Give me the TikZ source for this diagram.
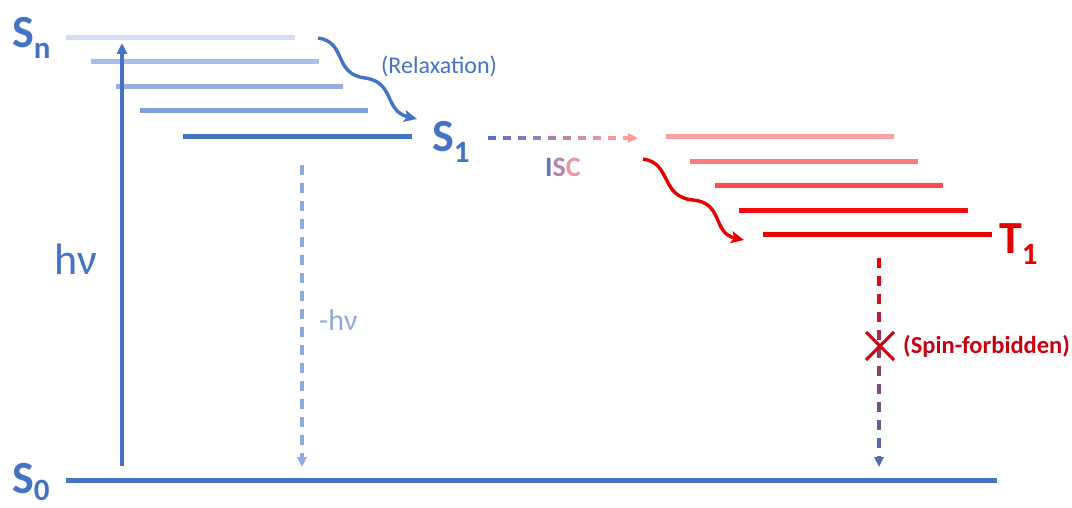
\documentclass[tikz,border=0pt]{standalone}
\usepackage{fontspec}
\setmainfont{Carlito}
\usetikzlibrary{arrows.meta,calc}

% singlet levels, pale to full blue
\definecolor{sA}{HTML}{D3DEF2}
\definecolor{sB}{HTML}{A6BEE8}
\definecolor{sC}{HTML}{94AFE0}
\definecolor{sD}{HTML}{7F9FD8}
\definecolor{sblue}{HTML}{4472C4}
\definecolor{slight}{HTML}{8FAADC}
% triplet levels, pale to full red
\definecolor{tA}{HTML}{FF9E9E}
\definecolor{tB}{HTML}{FF7A7A}
\definecolor{tC}{HTML}{FF4A4A}
\definecolor{tD}{HTML}{FF0A0A}
\definecolor{tred}{HTML}{E60000}
\definecolor{dred}{HTML}{C80010}
\definecolor{iscpink}{HTML}{FF9A9A}
\definecolor{iscblue}{HTML}{5A6FC2}

\newcommand\statelab[3][11pt]{\fontsize{46}{46}\selectfont\bfseries #2\raisebox{-#1}{\fontsize{31}{31}\selectfont #3}}

\begin{document}
\begin{tikzpicture}[x=1pt,y=-1pt,
  lvl/.style={line width=5pt},
  solidarrow/.style={line width=3.2pt,-{Triangle[length=11pt,width=10pt]}},
  dasharrow/.style={line width=3.2pt,dash pattern=on 10pt off 8pt,-{Triangle[length=10pt,width=9pt]}},
  wavy/.style={line width=3.4pt,-{Stealth[length=13pt,width=12pt,inset=3pt]}},
  lab/.style={inner sep=0pt,anchor=base west}]
\useasboundingbox (0,0) rectangle (1072,508);

% ---- singlet manifold ----
\coordinate (sn-l) at (66,38);  \coordinate (sn-r) at (295,38);
\coordinate (s2-l) at (91,62);  \coordinate (s2-r) at (319,62);
\coordinate (s3-l) at (116,87); \coordinate (s3-r) at (343,87);
\coordinate (s4-l) at (140,111);\coordinate (s4-r) at (368,111);
\coordinate (s1-l) at (183,137);\coordinate (s1-r) at (412,137);
\draw[lvl,sA] (sn-l) -- (sn-r);
\draw[lvl,sB] (s2-l) -- (s2-r);
\draw[lvl,sC] (s3-l) -- (s3-r);
\draw[lvl,sD] (s4-l) -- (s4-r);
\draw[lvl,sblue] (s1-l) -- (s1-r);

% ---- triplet manifold ----
\coordinate (tn-l) at (666,137); \coordinate (tn-r) at (894,137);
\coordinate (t2-l) at (690,162); \coordinate (t2-r) at (918,162);
\coordinate (t3-l) at (715,186); \coordinate (t3-r) at (943,186);
\coordinate (t4-l) at (739,211); \coordinate (t4-r) at (968,211);
\coordinate (t1-l) at (763,235); \coordinate (t1-r) at (992,235);
\draw[lvl,tA] (tn-l) -- (tn-r);
\draw[lvl,tB] (t2-l) -- (t2-r);
\draw[lvl,tC] (t3-l) -- (t3-r);
\draw[lvl,tD] (t4-l) -- (t4-r);
\draw[lvl,tred] (t1-l) -- (t1-r);

% ---- ground state ----
\coordinate (s0-l) at (66,480); \coordinate (s0-r) at (997,480);
\draw[lvl,sblue] (s0-l) -- (s0-r);

% ---- state labels ----
\node[lab,text=sblue] (lsn) at (12,48)  {\statelab{S}{n}};
\node[lab,text=sblue] (ls1) at (432,152) {\statelab{S}{1}};
\node[lab,text=sblue] (ls0) at (12,493) {\statelab[7pt]{S}{0}};
\node[lab,text=tred]  (lt1) at (999,253) {\statelab{T}{1}};

% ---- absorption ----
\coordinate (abs-a) at (122,466);
\coordinate (abs-b) at (122,43);
\draw[solidarrow,sblue] (abs-a) -- (abs-b);
\node[lab,text=sblue,font=\fontsize{44}{44}\selectfont] (hv) at (54,274) {hν};

% ---- fluorescence ----
\coordinate (fl-a) at (302,165);
\coordinate (fl-b) at (302,467);
\draw[dasharrow,slight] (fl-a) -- (fl-b);
\node[lab,text=slight,font=\fontsize{30}{30}\selectfont] (mhv) at (319,330) {-hν};

% ---- relaxation in the singlet manifold ----
\coordinate (rx-a) at (318,38);
\coordinate (rx-m) at (365,78);
\coordinate (rx-b) at (417,119);
\draw[wavy,sblue] (rx-a) .. controls (347,42) and (333,74) .. (rx-m)
  .. controls (395,82) and (384,111) .. (rx-b);
\node[lab,text=sblue,font=\fontsize{24}{24}\selectfont] (relax) at (381,74) {(Relaxation)};

% ---- intersystem crossing ----
\coordinate (isc-a) at (488,138);
\coordinate (isc-b) at (638,138);
\foreach \i [evaluate=\i as \p using 100-\i*12] in {0,...,8}
  \draw[line width=3.2pt,iscblue!\p!iscpink]
    ($(isc-a)!{\i*15/150}!(isc-b)$) -- ($(isc-a)!{(\i*15+8)/150}!(isc-b)$);
\draw[line width=3.2pt,iscpink,-{Triangle[length=10pt,width=9pt]}]
  ($(isc-a)!{135/150}!(isc-b)$) -- (isc-b);
\node[lab,font=\fontsize{28}{28}\selectfont\bfseries] (isc) at (545,177)
  {\textcolor{iscblue!90!iscpink}{I}\textcolor{iscblue!45!iscpink}{S}\textcolor{iscblue!10!iscpink}{C}};

% ---- relaxation in the triplet manifold ----
\coordinate (tx-a) at (643,159);
\coordinate (tx-m) at (693,200);
\coordinate (tx-b) at (744,240);
\draw[wavy,tred] (tx-a) .. controls (672,163) and (660,197) .. (tx-m)
  .. controls (724,203) and (712,233) .. (tx-b);

% ---- phosphorescence (spin-forbidden) ----
\coordinate (ph-a) at (879,258);
\coordinate (ph-b) at (879,467);
\foreach \i [evaluate=\i as \p using 100-\i*9] in {0,...,10}
  \draw[line width=3.2pt,tred!\p!sblue]
    ($(ph-a)!{\i*18/209}!(ph-b)$) -- ($(ph-a)!{(\i*18+10)/209}!(ph-b)$);
\draw[line width=3.2pt,sblue!90!tred,-{Triangle[length=10pt,width=9pt]}]
  ($(ph-a)!{198/209}!(ph-b)$) -- (ph-b);
\coordinate (cross) at (880,346);
\draw[line width=3pt,dred] ($(cross)+(-14,-14)$) -- ($(cross)+(14,14)$);
\draw[line width=3pt,dred] ($(cross)+(-14,14)$) -- ($(cross)+(14,-14)$);
\node[lab,text=dred,font=\fontsize{24.5}{24.5}\selectfont\bfseries] (spin) at (903,353) {(Spin-forbidden)};
\end{tikzpicture}
\end{document}
